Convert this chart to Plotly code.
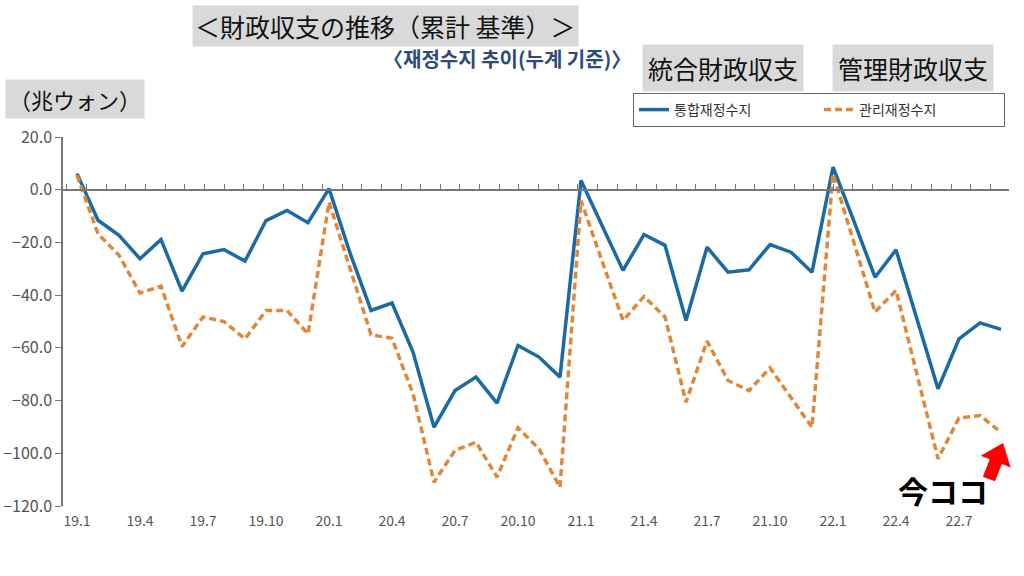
import math
import plotly.graph_objects as go

months = [f"{y}.{m}" for y in (19, 20, 21, 22) for m in range(1, 13)][:45]
tick_idx = list(range(0, 45, 3))
tick_labels = [months[i] for i in tick_idx]

integrated = [6.1, -11.6, -17.3, -26.2, -18.9, -38.5, -24.3, -22.7, -27.1, -11.7, -7.9, -12.5,
              0.4, -24.0, -45.8, -43.0, -61.6, -90.1, -76.2, -71.1, -81.0, -59.1, -63.5, -71.1,
              3.5, -13.5, -30.6, -17.0, -21.1, -49.6, -21.8, -31.3, -30.4, -20.8, -23.7, -31.3,
              8.6, -12.0, -33.2, -22.8, -49.0, -75.5, -56.6, -50.5, -53.0]
managed = [5.5, -16.7, -24.9, -39.2, -36.6, -59.5, -48.3, -50.0, -56.6, -45.8, -45.8, -54.7,
           -4.7, -30.0, -55.0, -56.4, -77.4, -111.0, -98.9, -95.8, -109.0, -90.3, -98.3, -112.9,
           -4.1, -27.0, -49.6, -40.5, -48.3, -80.6, -57.4, -72.4, -76.2, -67.6, -79.0, -90.1,
           6.0, -20.0, -46.4, -38.2, -70.0, -102.1, -86.6, -85.7, -92.0]

names = ["통합재정수지", "관리재정수지"]
colors = ["#1b6aa3", "#e0883a"]

W, H = 1024, 576
L, R, T, B = 63, 15, 137, 70
PW, PH = W - L - R, H - T - B

def px(x):
    return (x - L) / PW

def py(y):
    return (H - B - y) / PH

x = list(range(len(months)))
fig = go.Figure()
fig.add_trace(go.Scatter(x=x, y=integrated, mode="lines", name=names[0],
                         line=dict(color=colors[0], width=3.5)))
fig.add_trace(go.Scatter(x=x, y=managed, mode="lines", name=names[1],
                         line=dict(color=colors[1], width=3.5, dash="7px,4px")))
# helper trace for the zero-line axis with monthly tick marks
fig.add_trace(go.Scatter(x=[], y=[], xaxis="x2", showlegend=False, hoverinfo="skip"))

fig.update_layout(
    width=W, height=H,
    margin=dict(l=L, r=R, t=T, b=B, autoexpand=False),
    plot_bgcolor="white", paper_bgcolor="white",
    font=dict(family="Noto Sans CJK KR, sans-serif", color="#555"),
    xaxis=dict(range=[-0.667, 44.38], tickvals=tick_idx, ticktext=tick_labels,
               showline=False, showgrid=False, zeroline=False, ticks="",
               tickfont=dict(size=14, color="#555"), ticklabelstandoff=5),
    xaxis2=dict(overlaying="x", anchor="free", position=120 / 140, side="bottom",
                range=[-0.2, 47.94], tick0=0, dtick=1, ticks="inside", ticklen=5,
                tickcolor="#777", showline=True, linecolor="#777", linewidth=1.5,
                showticklabels=False, showgrid=False, zeroline=False),
    yaxis=dict(range=[-120, 20], dtick=20, tickformat=".1f", showline=True,
               linecolor="#777", linewidth=1.5, ticks="outside", ticklen=6,
               tickcolor="#777", showgrid=False, zeroline=False,
               tickfont=dict(size=16, color="#555")),
    legend=dict(orientation="h", x=px(633), y=py(93), xanchor="left", yanchor="top",
                bordercolor="#666", borderwidth=1, bgcolor="white",
                entrywidth=140, entrywidthmode="pixels",
                font=dict(size=14, color="#333", family="Noto Sans CJK KR")),
    showlegend=True,
)

jp = "Noto Sans CJK JP"
box = "#d9d9d9"
ann = [
    dict(text="＜財政収支の推移（累計 基準）＞", x=px(385), y=py(26), size=25, bg=box, pad=2, fam=jp, col="#111"),
    dict(text="<b>〈재정수지 추이(누계 기준)〉</b>", x=px(507), y=py(59), size=20, bg=None, pad=0, fam="Noto Sans CJK KR", col="#2c4a7c"),
    dict(text="統合財政収支", x=px(723), y=py(68), size=25, bg=box, pad=5, fam=jp, col="#111"),
    dict(text="管理財政収支", x=px(913), y=py(68), size=25, bg=box, pad=5, fam=jp, col="#111"),
    dict(text="（兆ウォン）", x=px(75), y=py(99), size=22, bg=box, pad=3, fam=jp, col="#111"),
    dict(text="<b>今ココ</b>", x=px(943), y=py(490), size=30, bg=None, pad=0, fam=jp, col="#000"),
]
for a in ann:
    fig.add_annotation(text=a["text"], x=a["x"], y=a["y"], xref="paper", yref="paper",
                       xanchor="center", yanchor="middle", showarrow=False,
                       bgcolor=a["bg"], borderpad=a["pad"],
                       font=dict(size=a["size"], family=a["fam"], color=a["col"]))

# red block arrow (decoration) pointing at the latest value
def block_arrow(tail, tip, shaft_w, head_w, head_l):
    dx, dy = tip[0] - tail[0], tip[1] - tail[1]
    ln = math.hypot(dx, dy)
    ux, uy = dx / ln, dy / ln
    nx, ny = -uy, ux
    neck = (tip[0] - ux * head_l, tip[1] - uy * head_l)
    pts = [
        (tail[0] + nx * shaft_w / 2, tail[1] + ny * shaft_w / 2),
        (neck[0] + nx * shaft_w / 2, neck[1] + ny * shaft_w / 2),
        (neck[0] + nx * head_w / 2, neck[1] + ny * head_w / 2),
        tip,
        (neck[0] - nx * head_w / 2, neck[1] - ny * head_w / 2),
        (neck[0] - nx * shaft_w / 2, neck[1] - ny * shaft_w / 2),
        (tail[0] - nx * shaft_w / 2, tail[1] - ny * shaft_w / 2),
    ]
    return "M " + " L ".join(f"{px(p[0]):.5f},{py(p[1]):.5f}" for p in pts) + " Z"

fig.add_shape(type="path", xref="paper", yref="paper",
              path=block_arrow((989, 479), (1003, 443), 13, 32, 20),
              fillcolor="#ff0000", line=dict(width=0))

fig.write_html("out.html", config={"displayModeBar": False},
               post_script="document.body.style.margin='0';")
